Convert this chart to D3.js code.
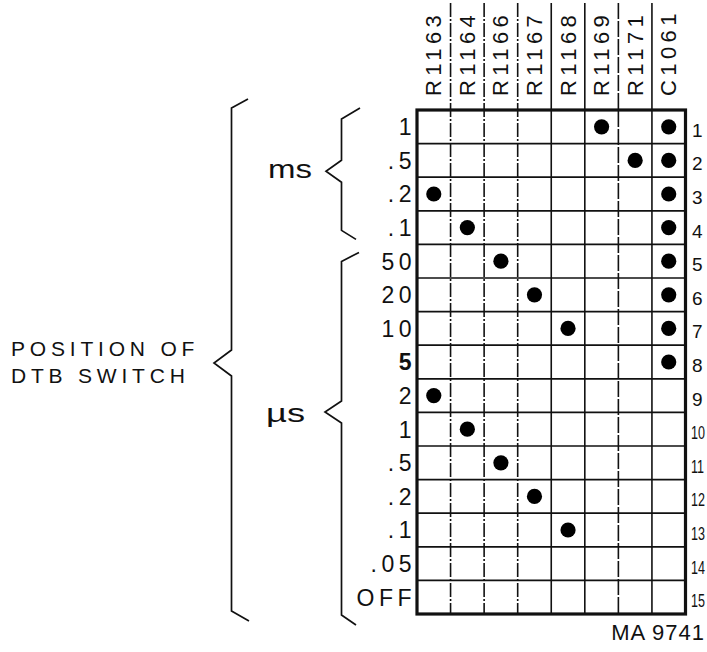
<!DOCTYPE html>
<html>
<head>
<meta charset="utf-8">
<script src="https://cdn.jsdelivr.net/npm/d3@7/dist/d3.min.js"></script>
<style>
  html, body { margin: 0; padding: 0; background: #fff; }
  svg { display: block; }
  text { font-family: "Liberation Sans", Arial, sans-serif; fill: #111; }
</style>
</head>
<body>
<svg id="chart" width="707" height="652"></svg>
<script>
// ---- data ----
const columns = ["R1163", "R1164", "R1166", "R1167", "R1168", "R1169", "R1171", "C1061"];
const rowNumbers = [1, 2, 3, 4, 5, 6, 7, 8, 9, 10, 11, 12, 13, 14, 15];
const rowLabels = ["1", ".5", ".2", ".1", "50", "20", "10", "5", "2", "1", ".5", ".2", ".1", ".05", "OFF"];
const rowUnits = ["ms", "ms", "ms", "ms", "µs", "µs", "µs", "µs", "µs", "µs", "µs", "µs", "µs", "µs", "µs"];
const connections = [
  ["R1169", "C1061"],
  ["R1171", "C1061"],
  ["R1163", "C1061"],
  ["R1164", "C1061"],
  ["R1166", "C1061"],
  ["R1167", "C1061"],
  ["R1168", "C1061"],
  ["C1061"],
  ["R1163"],
  ["R1164"],
  ["R1166"],
  ["R1167"],
  ["R1168"],
  [],
  []
];
const groupLabels = ["ms", "µs"];
const titleLines = ["POSITION OF", "DTB SWITCH"];
const figureId = "MA 9741";

// ---- layout ----
const svg = d3.select("#chart");
const x = d3.scaleBand().domain(columns).range([417, 685.5]);
const y = d3.scaleBand().domain(rowNumbers).range([110, 614]);
const bw = x.bandwidth(), bh = y.bandwidth();

// horizontal inner lines
svg.append("g").selectAll("line").data(rowNumbers.slice(1)).join("line")
  .attr("x1", x.range()[0]).attr("x2", x.range()[1])
  .attr("y1", d => y(d)).attr("y2", d => y(d))
  .attr("stroke", "#111").attr("stroke-width", 1.7);

// vertical column separators (extend up into header)
const sepStyle = ["14,2,2,2", "14,2,2,2", "14,2,2,2", null, null, "16,2", null];
svg.append("g").selectAll("line").data(columns.slice(1)).join("line")
  .attr("x1", d => x(d)).attr("x2", d => x(d))
  .attr("y1", 3).attr("y2", y.range()[1])
  .attr("stroke", "#111").attr("stroke-width", 1.6)
  .attr("stroke-dasharray", (d, i) => sepStyle[i]);

// outer border
svg.append("rect")
  .attr("x", x.range()[0]).attr("y", y.range()[0])
  .attr("width", x.range()[1] - x.range()[0])
  .attr("height", y.range()[1] - y.range()[0])
  .attr("fill", "none").attr("stroke", "#111").attr("stroke-width", 3.2);

// column headers (rotated)
svg.append("g").selectAll("text").data(columns).join("text")
  .attr("transform", d => `translate(${x(d) + bw / 2 + 7.5},96) rotate(-90)`)
  .attr("font-size", 22).attr("letter-spacing", 4.4)
  .text(d => d);

// dots
const dots = [];
connections.forEach((cols, i) => cols.forEach(c => dots.push({ row: rowNumbers[i], col: c })));
svg.append("g").selectAll("circle").data(dots).join("circle")
  .attr("cx", d => x(d.col) + bw / 2)
  .attr("cy", d => y(d.row) + bh / 2)
  .attr("r", 7.6).attr("fill", "#000");

// row labels (left)
svg.append("g").selectAll("text").data(rowNumbers).join("text")
  .attr("x", 416).attr("y", d => y(d) + bh / 2 + 8.3)
  .attr("text-anchor", "end")
  .attr("font-size", 23).attr("letter-spacing", 4.5)
  .attr("font-weight", (d, i) => rowLabels[i] === "5" ? "bold" : null)
  .text((d, i) => rowLabels[i]);

// row numbers (right) — two-digit numbers condensed so they fit the edge
svg.append("g").selectAll("text").data(rowNumbers).join("text")
  .attr("transform", d => String(d).length > 1
    ? `translate(691,${y(d) + bh / 2 + 10}) scale(0.66,1)`
    : `translate(692,${y(d) + bh / 2 + 10})`)
  .attr("font-size", 19)
  .text(d => d);

// braces
function brace(xv, xTip, yHookEnd, yTop, yJ1, yTip, yJ2, yBot, yHookEnd2, hx1, hx2) {
  return `M${hx1},${yHookEnd} L${xv},${yTop} L${xv},${yJ1} L${xTip},${yTip} L${xv},${yJ2} L${xv},${yBot} L${hx2},${yHookEnd2}`;
}
const msRows = rowNumbers.filter((d, i) => rowUnits[i] === "ms");
const usRows = rowNumbers.filter((d, i) => rowUnits[i] === "µs");
const msTop = y(msRows[0]), msBot = y(msRows[msRows.length - 1]) + bh;
const usTop = y(usRows[0]), usBot = y(usRows[usRows.length - 1]) + bh;
const msMid = (msTop + msBot) / 2 - 6;
const usMid = 412;
const allMid = 363;

const braceG = svg.append("g").attr("fill", "none").attr("stroke", "#111")
  .attr("stroke-width", 1.7).attr("stroke-linejoin", "miter");
braceG.append("path").attr("d",
  brace(341.5, 326, msTop - 2, msTop + 9, msMid - 11, msMid, msMid + 11, msBot - 14, msBot - 5, 360, 356));
braceG.append("path").attr("d",
  brace(341.5, 325, usTop + 8, usTop + 17, usMid - 11, usMid, usMid + 11, usBot + 1, usBot + 11, 359, 356));
braceG.append("path").attr("d",
  brace(231.5, 214, y.range()[0] - 11, y.range()[0] - 2, allMid - 13, allMid, allMid + 13, y.range()[1] - 3, y.range()[1] + 7, 248, 249));

// group labels
svg.append("text").attr("x", 268).attr("y", msMid + 7)
  .attr("font-size", 25).attr("textLength", 44).attr("lengthAdjust", "spacingAndGlyphs")
  .text(groupLabels[0]);
svg.append("text").attr("x", 266).attr("y", usMid + 10)
  .attr("font-size", 25).attr("textLength", 39).attr("lengthAdjust", "spacingAndGlyphs")
  .text(groupLabels[1]);

// title
svg.append("g").selectAll("text").data(titleLines).join("text")
  .attr("x", 11).attr("y", (d, i) => 355.5 + i * 27)
  .attr("font-size", 21).attr("letter-spacing", 4.8)
  .text(d => d);

// figure id
svg.append("text").attr("x", 705).attr("y", 640)
  .attr("text-anchor", "end").attr("font-size", 22).attr("letter-spacing", 1)
  .text(figureId);
</script>
</body>
</html>
